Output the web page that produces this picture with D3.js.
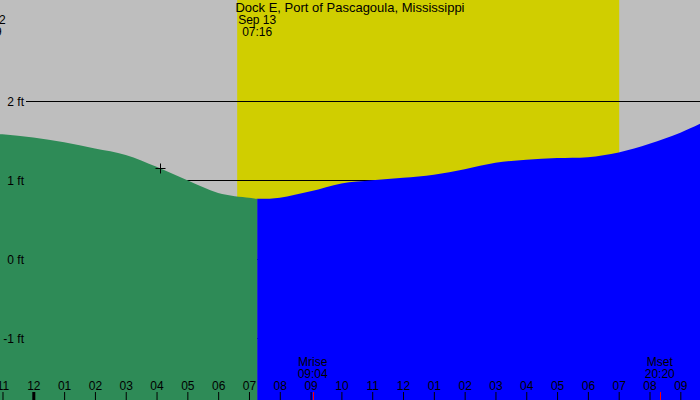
<!DOCTYPE html>
<html>
<head>
<meta charset="utf-8">
<script src="https://cdn.jsdelivr.net/npm/d3@7"></script>
<style>
  html, body { margin: 0; padding: 0; background: #bebebe; }
  svg { display: block; }
  text { font-family: "Liberation Sans", Arial, sans-serif; fill: #000; }
</style>
</head>
<body>
<svg id="chart" width="700" height="400"></svg>
<script>
// ---- data ----
const stationTitle = "Dock E, Port of Pascagoula, Mississippi";
// tide level (ft) by hour relative to midnight Sep 13
const hours  = [-2, -1, 0, 1, 2, 3, 4, 5, 6, 7, 7.267, 8, 9, 10, 11, 12, 13, 14, 15, 16, 17, 18, 19, 20, 21, 22];
const levels = [1.60, 1.58, 1.54, 1.48, 1.40, 1.32, 1.17, 1.00, 0.84, 0.778, 0.765, 0.78, 0.86, 0.96, 1.00, 1.03, 1.07, 1.14, 1.22, 1.26, 1.28, 1.29, 1.35, 1.46, 1.60, 1.78];
// tide events shown at top (hour, date label, time label)
const eventHours = [-1.517, 7.267];
const eventDates = ["Sep 12", "Sep 13"];
const eventTimes = ["22:29", "07:16"];
// fill split (low tide) hour
const splitHour = 7.267;
// daylight
const sunriseHour = 6.617;   // 06:37
const sunsetHour  = 19.017;  // 19:01
// moon
const moonHours  = [9.067, 20.333];
const moonNames  = ["Mrise", "Mset"];
const moonTimes  = ["09:04", "20:20"];
// marker
const markerHour = 4.12;
const markerLevel = 1.15;
// axes
const levelTicks  = [2, 1, 0, -1];
const levelLabels = ["2 ft", "1 ft", "0 ft", "-1 ft"];
const hourTicks  = [-1,0,1,2,3,4,5,6,7,8,9,10,11,12,13,14,15,16,17,18,19,20,21];
const hourLabels = ["11","12","01","02","03","04","05","06","07","08","09","10","11","12","01","02","03","04","05","06","07","08","09"];
const startHour = -1.081, endHour = 21.639;
const levelMin = -1.7772, levelMax = 3.2773;

// ---- drawing ----
const W = 700, H = 400;
const svg = d3.select("#chart");
const x = d3.scaleLinear().domain([startHour, endHour]).range([0, W]);
const y = d3.scaleLinear().domain([levelMin, levelMax]).range([H, 0]);

svg.append("rect").attr("width", W).attr("height", H).attr("fill", "#bebebe");

// daylight band
svg.append("rect")
  .attr("x", x(sunriseHour)).attr("y", 0)
  .attr("width", x(sunsetHour) - x(sunriseHour)).attr("height", H)
  .attr("fill", "#d0ce00");

// grid lines
svg.selectAll("line.grid").data(levelTicks).join("line")
  .attr("class", "grid")
  .attr("x1", 26).attr("x2", W)
  .attr("y1", d => Math.round(y(d)) + 0.5).attr("y2", d => Math.round(y(d)) + 0.5)
  .attr("stroke", "#000").attr("stroke-width", 1);

// tide area
const pts = hours.map((h, i) => [h, levels[i]]);
const area = d3.area()
  .x(d => x(d[0])).y0(H).y1(d => y(d[1]))
  .curve(d3.curveCatmullRom.alpha(0.5));

const defs = svg.append("defs");
defs.append("clipPath").attr("id", "clipL").append("rect")
  .attr("x", 0).attr("y", 0).attr("width", x(splitHour)).attr("height", H);
defs.append("clipPath").attr("id", "clipR").append("rect")
  .attr("x", x(splitHour)).attr("y", 0).attr("width", W - x(splitHour)).attr("height", H);

svg.append("path").datum(pts).attr("d", area).attr("fill", "#2e8b57").attr("clip-path", "url(#clipL)");
svg.append("path").datum(pts).attr("d", area).attr("fill", "#0000ff").attr("clip-path", "url(#clipR)");

// level labels
svg.selectAll("text.lvl").data(levelTicks).join("text")
  .attr("class", "lvl")
  .attr("x", 24).attr("y", d => y(d) + 4.5)
  .attr("text-anchor", "end").attr("font-size", 12)
  .text((d, i) => levelLabels[i]);

// hour axis
const axis = d3.axisTop(x)
  .tickValues(hourTicks)
  .tickSize(8).tickPadding(2)
  .tickFormat((d, i) => hourLabels[i]);
const gAxis = svg.append("g").attr("transform", `translate(0,${H})`).call(axis);
gAxis.select(".domain").remove();
gAxis.selectAll("text").attr("font-size", 12).attr("font-family", "Liberation Sans, Arial, sans-serif").attr("fill", "#000");
gAxis.selectAll(".tick line").attr("stroke", "#000")
  .attr("stroke-width", d => (d % 24 === 0 ? 3 : 1));

// moon ticks & labels
svg.selectAll("line.moon").data(moonHours).join("line")
  .attr("class", "moon")
  .attr("x1", d => Math.round(x(d)) + 0.5).attr("x2", d => Math.round(x(d)) + 0.5)
  .attr("y1", H - 8).attr("y2", H)
  .attr("stroke", "#ff0000").attr("stroke-width", 1);
moonHours.forEach((h, i) => {
  svg.append("text").attr("x", x(h)).attr("y", 366).attr("text-anchor", "middle").attr("font-size", 12).text(moonNames[i]);
  svg.append("text").attr("x", x(h)).attr("y", 378).attr("text-anchor", "middle").attr("font-size", 12).text(moonTimes[i]);
});

// title & events
svg.append("text").attr("x", W / 2).attr("y", 12).attr("text-anchor", "middle").attr("font-size", 13).text(stationTitle);
eventHours.forEach((h, i) => {
  svg.append("text").attr("x", x(h)).attr("y", 24).attr("text-anchor", "middle").attr("font-size", 12).text(eventDates[i]);
  svg.append("text").attr("x", x(h)).attr("y", 36).attr("text-anchor", "middle").attr("font-size", 12).text(eventTimes[i]);
});

// marker
const mx = Math.round(x(markerHour)) + 0.5, my = Math.round(y(markerLevel)) + 0.5;
svg.append("path")
  .attr("d", `M${mx - 5},${my}H${mx + 5}M${mx},${my - 5}V${my + 5}`)
  .attr("stroke", "#000").attr("stroke-width", 1).attr("fill", "none");
</script>
</body>
</html>
